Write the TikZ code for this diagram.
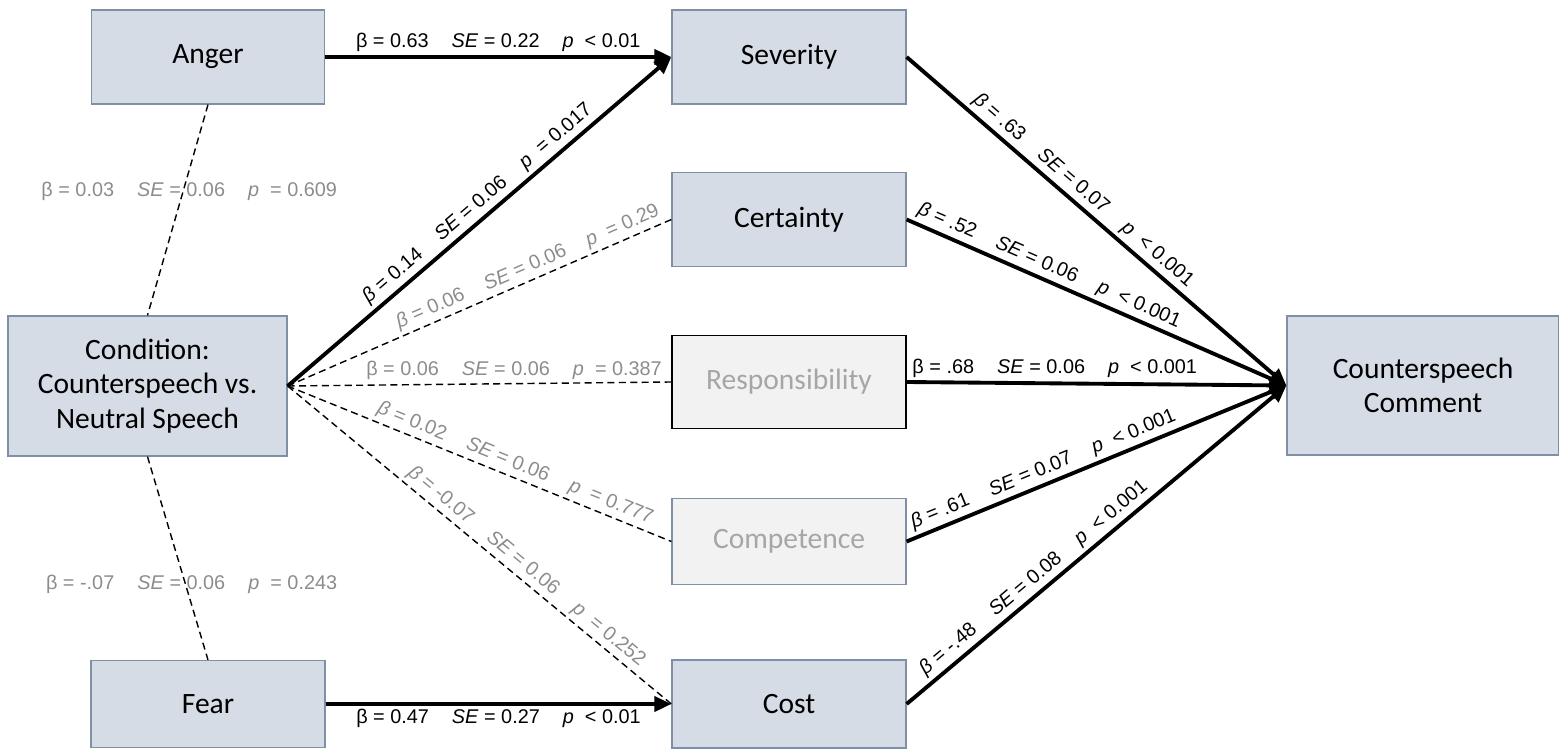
\documentclass[tikz,border=0pt]{standalone}
\usepackage{fontspec}
\setmainfont{Carlito}
\newfontfamily\labfont{Liberation Sans}
\usetikzlibrary{arrows.meta}
\definecolor{boxfill}{HTML}{D6DCE5}
\definecolor{boxline}{HTML}{7F8FA6}
\definecolor{pale}{HTML}{F2F2F2}
\definecolor{paletext}{HTML}{A6A6A6}
\definecolor{nsgray}{HTML}{8C8C8C}
\newcommand{\gap}{\hspace{0.46cm}}
\newcommand{\est}[4]{#1 = #2\gap\textit{SE} = #3\gap\textit{p}\ \ #4}

\begin{document}
\begin{tikzpicture}[node distance=3.25cm,
    box/.style={rectangle, draw=boxline, line width=0.7pt, fill=boxfill, align=center, minimum width=4.68cm, minimum height=1.88cm, font=\fontsize{16.8}{19.5}\selectfont},
    lab/.style={font=\labfont\fontsize{11.3}{13}\selectfont, inner sep=2pt},
    ns/.style={lab, text=nsgray},
    sig/.style={line width=2.2pt, -{Triangle[length=0.34cm, width=0.3cm]}},
    nsline/.style={line width=0.8pt, dash pattern=on 4pt off 2.5pt}]
      \useasboundingbox (0,0) rectangle (31.18,15.06);
      \node[box] (sev) at (15.78,13.92) {Severity};
      \node[box] (cert) [below of=sev] {Certainty};
      \node[box, fill=pale, draw=black, text=paletext, minimum height=1.86cm] (resp) [below of=cert] {Responsibility};
      \node[box, fill=pale, text=paletext, minimum height=1.72cm] (comp) [below of=resp, yshift=0.06cm] {Competence};
      \node[box, minimum height=1.76cm] (cost) [below of=comp] {Cost};
      \node[box, minimum width=4.66cm] (anger) [left of=sev, xshift=-8.37cm] {Anger};
      \node[box, minimum height=1.74cm] (fear) [left of=cost, xshift=-8.37cm] {Fear};
      \node[box, minimum width=5.58cm, minimum height=2.8cm] (cond) [left of=resp, xshift=-9.58cm, yshift=-0.08cm] {Condition:\\Counterspeech vs.\\Neutral Speech};
      \node[box, minimum width=5.44cm, minimum height=2.78cm] (comm) [right of=resp, xshift=9.43cm, yshift=-0.07cm] {Counterspeech\\Comment};

      \draw[sig] (anger) -- node[lab, above] {\est{β}{0.63}{0.22}{< 0.01}} (sev);
      \draw[sig] (fear) -- node[lab, below] {\est{β}{0.47}{0.27}{< 0.01}} (cost);
      \draw[sig] (cond.east) -- node[lab, sloped, above, pos=0.52] {\est{\textit{β}}{0.14}{0.06}{= 0.017}} (sev.west);
      \draw[nsline] (cond.east) -- node[ns, sloped, above, pos=0.64] {\est{\textit{β}}{0.06}{0.06}{= 0.29}} (cert.west);
      \draw[nsline] (cond.east) -- node[ns, above, pos=0.59] {\est{β}{0.06}{0.06}{= 0.387}} (resp.west);
      \draw[nsline] (cond.east) -- node[ns, sloped, above, pos=0.58] {\est{\textit{β}}{0.02}{0.06}{= 0.777}} (comp.west);
      \draw[nsline] (cond.east) -- node[ns, sloped, above, pos=0.6] {\est{\textit{β}}{-0.07}{0.06}{= 0.252}} (cost.west);
      \draw[nsline] (anger.south) -- node[ns, pos=0.41, xshift=0.12cm] {\est{β}{0.03}{0.06}{= 0.609}} (cond.north);
      \draw[nsline] (cond.south) -- node[ns, pos=0.63, xshift=0.12cm] {\est{β}{-.07}{0.06}{= 0.243}} (fear.north);

      \draw[sig] (sev.east) -- node[lab, sloped, above, pos=0.44] {\est{\textit{β}}{.63}{0.07}{< 0.001}} (comm.west);
      \draw[sig] (cert.east) -- node[lab, sloped, above, pos=0.36] {\est{\textit{β}}{.52}{0.06}{< 0.001}} (comm.west);
      \draw[sig] (resp.east) -- node[lab, above, pos=0.39] {\est{β}{.68}{0.06}{< 0.001}} (comm.west);
      \draw[sig] (comp.east) -- node[lab, sloped, above, pos=0.375] {\est{\textit{β}}{.61}{0.07}{< 0.001}} (comm.west);
      \draw[sig] (cost.east) -- node[lab, sloped, above, pos=0.36] {\est{\textit{β}}{-.48}{0.08}{< 0.001}} (comm.west);
    \end{tikzpicture}
\end{document}
